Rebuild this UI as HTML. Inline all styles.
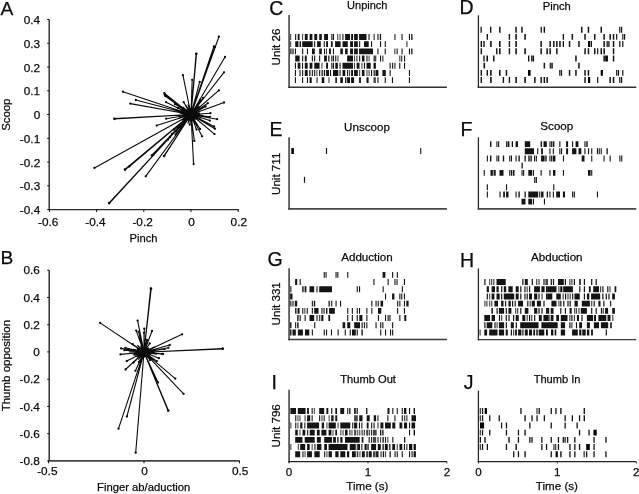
<!DOCTYPE html>
<html><head><meta charset="utf-8"><title>Figure</title>
<style>
html,body{margin:0;padding:0;background:#fff;}
svg{display:block;}
text{font-family:"Liberation Sans",sans-serif;fill:#0c0c0c;stroke:#0c0c0c;stroke-width:0.25px;}
</style></head><body>
<svg width="639" height="494" viewBox="0 0 639 494">
<rect width="639" height="494" fill="#fff"/>
<path d="M49.2 19.5V209.6H238.8" fill="none" stroke="#2a2a2a" stroke-width="1.4"/>
<text x="40.2" y="214.2" font-size="11.8" text-anchor="end">-0.4</text>
<text x="40.2" y="190.4" font-size="11.8" text-anchor="end">-0.3</text>
<text x="40.2" y="166.7" font-size="11.8" text-anchor="end">-0.2</text>
<text x="40.2" y="142.9" font-size="11.8" text-anchor="end">-0.1</text>
<text x="40.2" y="119.1" font-size="11.8" text-anchor="end">0</text>
<text x="40.2" y="95.4" font-size="11.8" text-anchor="end">0.1</text>
<text x="40.2" y="71.6" font-size="11.8" text-anchor="end">0.2</text>
<text x="40.2" y="47.9" font-size="11.8" text-anchor="end">0.3</text>
<text x="40.2" y="24.1" font-size="11.8" text-anchor="end">0.4</text>
<text x="48.2" y="225.8" font-size="11.8" text-anchor="middle">-0.6</text>
<text x="95.4" y="225.8" font-size="11.8" text-anchor="middle">-0.4</text>
<text x="142.6" y="225.8" font-size="11.8" text-anchor="middle">-0.2</text>
<text x="191.6" y="225.8" font-size="11.8" text-anchor="middle">0</text>
<text x="238.8" y="225.8" font-size="11.8" text-anchor="middle">0.2</text>
<path d="M47.2 209.6H49.2M47.2 185.8H49.2M47.2 162.1H49.2M47.2 138.3H49.2M47.2 114.5H49.2M47.2 90.8H49.2M47.2 67.0H49.2M47.2 43.3H49.2M47.2 19.5H49.2M49.4 209.6V212.0M96.6 209.6V212.0M143.8 209.6V212.0M191.0 209.6V212.0M238.2 209.6V212.0" stroke="#111" stroke-width="1" fill="none"/>
<text x="143.5" y="242.2" font-size="11.2" text-anchor="middle">Pinch</text>
<text x="10.3" y="114.7" font-size="11.4" text-anchor="middle" transform="rotate(-90 10.3 114.7)">Scoop</text>
<text x="0.6" y="14.8" font-size="19.2" text-anchor="start">A</text>
<path d="M191.0 114.5L218.9 36.7M191.0 114.5L213.9 46.4M191.0 114.5L215.0 46.9M191.0 114.5L196.1 53.7M191.0 114.5L196.5 53.8M191.0 114.5L225 57M191.0 114.5L224 72.3M191.0 114.5L182.9 75.2M191.0 114.5L192.2 79.8M191.0 114.5L199.7 81.9M191.0 114.5L218.9 90.4M191.0 114.5L164.3 93.1M191.0 114.5L165.5 96.2M191.0 114.5L166.1 102.2M191.0 114.5L224 102.5M191.0 114.5L207.8 103.2M191.0 114.5L205.6 106.5M191.0 114.5L183.7 102.2M191.0 114.5L210.4 113.2M191.0 114.5L217.1 119.2M191.0 114.5L209.8 116.8M191.0 114.5L209.8 120.6M191.0 114.5L214.9 128.7M191.0 114.5L214.1 126.5M191.0 114.5L214.5 134.1M191.0 114.5L202 136.3M191.0 114.5L194.3 140.9M191.0 114.5L193.6 164.1M191.0 114.5L196.5 129.6M191.0 114.5L200.1 129M191.0 114.5L189.8 124.7M191.0 114.5L166.2 118.7M191.0 114.5L156.7 125.6M191.0 114.5L123 91.7M191.0 114.5L135.8 100M191.0 114.5L130.3 103.6M191.0 114.5L114.4 118.6M191.0 114.5L114.5 119.0M191.0 114.5L94.4 167.9M191.0 114.5L124.8 169.4M191.0 114.5L125.1 169.8M191.0 114.5L129.3 166.5M191.0 114.5L145.7 176.3M191.0 114.5L108.9 203M191.0 114.5L109.3 203.3M191.0 114.5L163.9 156.1M191.0 114.5L151.7 155.5M191.0 114.5L153.2 155M191.0 114.5L164.3 156M191.0 114.5L165 94.5M191.0 114.5L164.8 95M191.0 114.5L203 98M191.0 114.5L178 108M191.0 114.5L175 104M191.0 114.5L200 100M191.0 114.5L178 128M191.0 114.5L176 131.5M191.0 114.5L174 129.5M191.0 114.5L172 134M191.0 114.5L175.5 134.5M191.0 114.5L170 137M191.0 114.5L179.5 126M191.0 114.5L168 139.5M191.0 114.5L181 127.5" stroke="#0a0a0a" stroke-width="1.1" fill="none" stroke-linecap="round"/>
<g fill="#0a0a0a"><circle cx="218.9" cy="36.7" r="1.15"/><circle cx="213.9" cy="46.4" r="1.15"/><circle cx="215.0" cy="46.9" r="1.15"/><circle cx="196.1" cy="53.7" r="1.15"/><circle cx="196.5" cy="53.8" r="1.15"/><circle cx="225" cy="57" r="1.15"/><circle cx="224" cy="72.3" r="1.15"/><circle cx="182.9" cy="75.2" r="1.15"/><circle cx="192.2" cy="79.8" r="1.15"/><circle cx="199.7" cy="81.9" r="1.15"/><circle cx="218.9" cy="90.4" r="1.15"/><circle cx="164.3" cy="93.1" r="1.15"/><circle cx="165.5" cy="96.2" r="1.15"/><circle cx="166.1" cy="102.2" r="1.15"/><circle cx="224" cy="102.5" r="1.15"/><circle cx="207.8" cy="103.2" r="1.15"/><circle cx="205.6" cy="106.5" r="1.15"/><circle cx="183.7" cy="102.2" r="1.15"/><circle cx="210.4" cy="113.2" r="1.15"/><circle cx="217.1" cy="119.2" r="1.15"/><circle cx="209.8" cy="116.8" r="1.15"/><circle cx="209.8" cy="120.6" r="1.15"/><circle cx="214.9" cy="128.7" r="1.15"/><circle cx="214.1" cy="126.5" r="1.15"/><circle cx="214.5" cy="134.1" r="1.15"/><circle cx="202" cy="136.3" r="1.15"/><circle cx="194.3" cy="140.9" r="1.15"/><circle cx="193.6" cy="164.1" r="1.15"/><circle cx="196.5" cy="129.6" r="1.15"/><circle cx="200.1" cy="129" r="1.15"/><circle cx="189.8" cy="124.7" r="1.15"/><circle cx="166.2" cy="118.7" r="1.15"/><circle cx="156.7" cy="125.6" r="1.15"/><circle cx="123" cy="91.7" r="1.15"/><circle cx="135.8" cy="100" r="1.15"/><circle cx="130.3" cy="103.6" r="1.15"/><circle cx="114.4" cy="118.6" r="1.15"/><circle cx="114.5" cy="119.0" r="1.15"/><circle cx="94.4" cy="167.9" r="1.15"/><circle cx="124.8" cy="169.4" r="1.15"/><circle cx="125.1" cy="169.8" r="1.15"/><circle cx="129.3" cy="166.5" r="1.15"/><circle cx="145.7" cy="176.3" r="1.15"/><circle cx="108.9" cy="203" r="1.15"/><circle cx="109.3" cy="203.3" r="1.15"/><circle cx="163.9" cy="156.1" r="1.15"/><circle cx="151.7" cy="155.5" r="1.15"/><circle cx="153.2" cy="155" r="1.15"/><circle cx="164.3" cy="156" r="1.15"/><circle cx="165" cy="94.5" r="1.15"/><circle cx="164.8" cy="95" r="1.15"/><circle cx="203" cy="98" r="1.15"/><circle cx="178" cy="108" r="1.15"/><circle cx="175" cy="104" r="1.15"/><circle cx="200" cy="100" r="1.15"/><circle cx="178" cy="128" r="1.15"/><circle cx="176" cy="131.5" r="1.15"/><circle cx="174" cy="129.5" r="1.15"/><circle cx="172" cy="134" r="1.15"/><circle cx="175.5" cy="134.5" r="1.15"/><circle cx="170" cy="137" r="1.15"/><circle cx="179.5" cy="126" r="1.15"/><circle cx="168" cy="139.5" r="1.15"/><circle cx="181" cy="127.5" r="1.15"/></g>
<path d="M191.0 114.5L191.7 122.0M191.0 114.5L184.3 120.2M191.0 114.5L187.1 111.4M191.0 114.5L202.7 115.3M191.0 114.5L190.6 120.0M191.0 114.5L199.8 114.3M191.0 114.5L195.6 108.5M191.0 114.5L187.0 110.7M191.0 114.5L183.1 107.3M191.0 114.5L180.2 113.2M191.0 114.5L188.4 110.6M191.0 114.5L191.5 106.7M191.0 114.5L189.3 118.5M191.0 114.5L196.8 109.2M191.0 114.5L188.7 105.1M191.0 114.5L188.2 104.9M191.0 114.5L182.0 120.1M191.0 114.5L179.3 117.9M191.0 114.5L195.2 111.3M191.0 114.5L195.4 118.6M191.0 114.5L199.3 113.0M191.0 114.5L185.8 110.3M191.0 114.5L182.9 114.2M191.0 114.5L185.3 120.7M191.0 114.5L180.4 109.6M191.0 114.5L185.8 105.4M191.0 114.5L199.0 106.4M191.0 114.5L188.0 110.1M191.0 114.5L199.1 106.7M191.0 114.5L198.9 110.2M191.0 114.5L189.5 109.3M191.0 114.5L195.7 107.8M191.0 114.5L189.8 118.8M191.0 114.5L198.8 106.3M191.0 114.5L200.7 119.3M191.0 114.5L185.8 117.1M191.0 114.5L188.0 123.1M191.0 114.5L194.7 111.4M191.0 114.5L187.0 111.7M191.0 114.5L189.5 108.5" stroke="#0a0a0a" stroke-width="1.3" fill="none" stroke-linecap="round"/>
<ellipse cx="191.0" cy="114.5" rx="7.5" ry="6.5" fill="#0a0a0a"/>
<path d="M49.2 270.2V460.9" fill="none" stroke="#222" stroke-width="1.4"/>
<path d="M48.5 460.9H239.6" fill="none" stroke="#444" stroke-width="1.75"/>
<text x="39.8" y="465.0" font-size="11.8" text-anchor="end">-0.8</text>
<text x="39.8" y="437.8" font-size="11.8" text-anchor="end">-0.6</text>
<text x="39.8" y="410.5" font-size="11.8" text-anchor="end">-0.4</text>
<text x="39.8" y="383.3" font-size="11.8" text-anchor="end">-0.2</text>
<text x="39.8" y="356.1" font-size="11.8" text-anchor="end">0</text>
<text x="39.8" y="328.8" font-size="11.8" text-anchor="end">0.2</text>
<text x="39.8" y="301.6" font-size="11.8" text-anchor="end">0.4</text>
<text x="39.8" y="274.3" font-size="11.8" text-anchor="end">0.6</text>
<text x="47.3" y="475.2" font-size="11.8" text-anchor="middle">-0.5</text>
<text x="144.6" y="475.2" font-size="11.8" text-anchor="middle">0</text>
<text x="240.1" y="475.2" font-size="11.8" text-anchor="middle">0.5</text>
<path d="M47.2 460.9H49.2M47.2 433.7H49.2M47.2 406.4H49.2M47.2 379.2H49.2M47.2 351.9H49.2M47.2 324.7H49.2M47.2 297.5H49.2M47.2 270.2H49.2M48.5 460.9V463.29999999999995M144.0 460.9V463.29999999999995M239.5 460.9V463.29999999999995" stroke="#111" stroke-width="1" fill="none"/>
<text x="143.7" y="490.9" font-size="11.25" text-anchor="middle">Finger ab/aduction</text>
<text x="10.2" y="365.6" font-size="11.5" text-anchor="middle" transform="rotate(-90 10.2 365.6)">Thumb opposition</text>
<text x="0.4" y="264.4" font-size="19.2" text-anchor="start">B</text>
<path d="M144 352.2L150.7 288.5M144 352.2L151.2 288.7M144 352.2L100.1 322.9M144 352.2L137.6 320.6M144 352.2L136.2 330.6M144 352.2L139.8 337.7M144 352.2L138.6 331.6M144 352.2L144.3 328.6M144 352.2L144 332.8M144 352.2L152 331M144 352.2L182.1 334.3M144 352.2L169.7 345M144 352.2L168.5 347.7M144 352.2L164.6 349M144 352.2L163.1 354M144 352.2L158.9 358.2M144 352.2L156.8 361.1M144 352.2L121.1 348.4M144 352.2L120.5 354.4M144 352.2L124.4 350.2M144 352.2L125.4 347.8M144 352.2L126.8 361M144 352.2L125.5 369.5M144 352.2L133.5 362.6M144 352.2L135.4 370.8M144 352.2L132.7 344.1M144 352.2L149.7 343.4M144 352.2L161.9 353.9M144 352.2L222.7 348.5M144 352.2L222.7 348.9M144 352.2L175.3 378.6M144 352.2L183.6 393.8M144 352.2L168.1 410.8M144 352.2L168.5 410.6M144 352.2L126.9 416.5M144 352.2L118.5 428.7M144 352.2L135.7 452.7M144 352.2L158 382.5M144 352.2L147 340M144 352.2L141 341M144 352.2L150 360M144 352.2L139 362" stroke="#0a0a0a" stroke-width="1.1" fill="none" stroke-linecap="round"/>
<g fill="#0a0a0a"><circle cx="150.7" cy="288.5" r="1.15"/><circle cx="151.2" cy="288.7" r="1.15"/><circle cx="100.1" cy="322.9" r="1.15"/><circle cx="137.6" cy="320.6" r="1.15"/><circle cx="136.2" cy="330.6" r="1.15"/><circle cx="139.8" cy="337.7" r="1.15"/><circle cx="138.6" cy="331.6" r="1.15"/><circle cx="144.3" cy="328.6" r="1.15"/><circle cx="144" cy="332.8" r="1.15"/><circle cx="152" cy="331" r="1.15"/><circle cx="182.1" cy="334.3" r="1.15"/><circle cx="169.7" cy="345" r="1.15"/><circle cx="168.5" cy="347.7" r="1.15"/><circle cx="164.6" cy="349" r="1.15"/><circle cx="163.1" cy="354" r="1.15"/><circle cx="158.9" cy="358.2" r="1.15"/><circle cx="156.8" cy="361.1" r="1.15"/><circle cx="121.1" cy="348.4" r="1.15"/><circle cx="120.5" cy="354.4" r="1.15"/><circle cx="124.4" cy="350.2" r="1.15"/><circle cx="125.4" cy="347.8" r="1.15"/><circle cx="126.8" cy="361" r="1.15"/><circle cx="125.5" cy="369.5" r="1.15"/><circle cx="133.5" cy="362.6" r="1.15"/><circle cx="135.4" cy="370.8" r="1.15"/><circle cx="132.7" cy="344.1" r="1.15"/><circle cx="149.7" cy="343.4" r="1.15"/><circle cx="161.9" cy="353.9" r="1.15"/><circle cx="222.7" cy="348.5" r="1.15"/><circle cx="222.7" cy="348.9" r="1.15"/><circle cx="175.3" cy="378.6" r="1.15"/><circle cx="183.6" cy="393.8" r="1.15"/><circle cx="168.1" cy="410.8" r="1.15"/><circle cx="168.5" cy="410.6" r="1.15"/><circle cx="126.9" cy="416.5" r="1.15"/><circle cx="118.5" cy="428.7" r="1.15"/><circle cx="135.7" cy="452.7" r="1.15"/><circle cx="158" cy="382.5" r="1.15"/><circle cx="147" cy="340" r="1.15"/><circle cx="141" cy="341" r="1.15"/><circle cx="150" cy="360" r="1.15"/><circle cx="139" cy="362" r="1.15"/></g>
<path d="M144 352.2L154.4 347.0M144 352.2L129.7 351.9M144 352.2L141.8 355.2M144 352.2L139.6 350.5M144 352.2L146.9 356.7M144 352.2L138.9 349.9M144 352.2L156.6 354.1M144 352.2L138.6 359.1M144 352.2L150.9 349.4M144 352.2L134.4 353.5M144 352.2L137.4 347.7M144 352.2L133.9 350.1M144 352.2L153.1 350.3M144 352.2L133.3 354.9M144 352.2L144.6 356.5M144 352.2L153.8 351.5M144 352.2L138.9 351.3M144 352.2L135.0 355.1M144 352.2L154.7 352.9M144 352.2L140.1 349.9M144 352.2L137.4 348.6M144 352.2L140.4 348.1M144 352.2L140.8 346.0M144 352.2L149.7 352.6M144 352.2L137.7 345.5M144 352.2L143.9 357.2M144 352.2L137.2 349.8M144 352.2L138.7 355.5M144 352.2L136.8 356.4M144 352.2L141.3 356.6M144 352.2L144.8 349.3M144 352.2L133.2 349.5M144 352.2L141.3 355.8M144 352.2L146.4 348.5M144 352.2L147.5 356.8M144 352.2L142.0 349.1M144 352.2L140.4 356.2M144 352.2L148.6 347.9M144 352.2L148.1 349.3M144 352.2L138.2 357.3" stroke="#0a0a0a" stroke-width="1.3" fill="none" stroke-linecap="round"/>
<ellipse cx="144" cy="352.2" rx="7.5" ry="5.0" fill="#0a0a0a"/>
<path d="M289.1 15.0V87.875" fill="none" stroke="#505050" stroke-width="1.7"/>
<path d="M288.25 87.15H446.9" fill="none" stroke="#333" stroke-width="1.45"/>
<text x="367.3" y="9.3" font-size="11.0" text-anchor="middle">Unpinch</text>
<text x="279.6" y="47.0" font-size="11.6" text-anchor="middle" transform="rotate(-90 279.6 47.0)">Unit 26</text>
<text x="269.2" y="14.8" font-size="19.5" text-anchor="start">C</text>
<path d="M295.1 34.0h1.1v5.9h-1.1zM297.7 34.0h1.9v5.9h-1.9zM304.8 34.0h2.9v5.9h-2.9zM309.6 34.0h2.8v5.9h-2.8zM314.3 34.0h2.9v5.9h-2.9zM319.2 34.0h2.6v5.9h-2.6zM324.1 34.0h3.9v5.9h-3.9zM331.3 34.0h1.1v5.9h-1.1zM332.9 34.0h1.1v5.9h-1.1zM345.1 34.0h4.9v5.9h-4.9zM351.1 34.0h1.9v5.9h-1.9zM295.2 41.2h2.8v5.9h-2.8zM299.9 41.2h1.1v5.9h-1.1zM302.2 41.2h10.5v5.9h-10.5zM314.1 41.2h1.1v5.9h-1.1zM317.1 41.2h3.7v5.9h-3.7zM323.7 41.2h1.1v5.9h-1.1zM326.1 41.2h1.9v5.9h-1.9zM330.9 41.2h1.8v5.9h-1.8zM335.1 41.2h5.5v5.9h-5.5zM342.5 41.2h5.3v5.9h-5.3zM350.1 41.2h2.9v5.9h-2.9zM294.9 48.4h1.1v5.9h-1.1zM302.1 48.4h1.1v5.9h-1.1zM306.9 48.4h1.1v5.9h-1.1zM312.0 48.4h2.8v5.9h-2.8zM319.2 48.4h2.6v5.9h-2.6zM324.0 48.4h1.1v5.9h-1.1zM329.0 48.4h1.9v5.9h-1.9zM332.9 48.4h1.1v5.9h-1.1zM340.3 48.4h2.6v5.9h-2.6zM345.1 48.4h2.6v5.9h-2.6zM350.1 48.4h2.9v5.9h-2.9zM295.2 55.6h4.4v5.9h-4.4zM302.1 55.6h1.1v5.9h-1.1zM304.8 55.6h1.9v5.9h-1.9zM311.8 55.6h1.1v5.9h-1.1zM314.1 55.6h1.1v5.9h-1.1zM319.1 55.6h1.1v5.9h-1.1zM324.1 55.6h2.8v5.9h-2.8zM331.3 55.6h1.1v5.9h-1.1zM332.9 55.6h1.1v5.9h-1.1zM335.2 55.6h1.1v5.9h-1.1zM347.1 55.6h5.9v5.9h-5.9zM294.9 62.8h1.1v5.9h-1.1zM297.7 62.8h2.7v5.9h-2.7zM302.0 62.8h1.1v5.9h-1.1zM304.8 62.8h2.9v5.9h-2.9zM309.6 62.8h2.8v5.9h-2.8zM314.3 62.8h5.3v5.9h-5.3zM326.1 62.8h1.9v5.9h-1.9zM331.3 62.8h1.1v5.9h-1.1zM332.9 62.8h1.1v5.9h-1.1zM335.3 62.8h2.6v5.9h-2.6zM339.5 62.8h1.1v5.9h-1.1zM342.5 62.8h10.5v5.9h-10.5zM294.9 70.0h1.1v5.9h-1.1zM299.5 70.0h1.1v5.9h-1.1zM302.1 70.0h1.1v5.9h-1.1zM304.8 70.0h2.9v5.9h-2.9zM311.8 70.0h1.1v5.9h-1.1zM314.1 70.0h1.1v5.9h-1.1zM319.1 70.0h1.1v5.9h-1.1zM324.0 70.0h1.1v5.9h-1.1zM326.1 70.0h2.9v5.9h-2.9zM330.0 70.0h1.1v5.9h-1.1zM333.0 70.0h5.3v5.9h-5.3zM339.5 70.0h1.1v5.9h-1.1zM342.5 70.0h2.8v5.9h-2.8zM347.1 70.0h1.1v5.9h-1.1zM351.1 70.0h1.9v5.9h-1.9zM294.9 77.2h1.1v5.9h-1.1zM302.0 77.2h1.1v5.9h-1.1zM306.9 77.2h1.1v5.9h-1.1zM309.6 77.2h2.1v5.9h-2.1zM321.7 77.2h2.6v5.9h-2.6zM335.3 77.2h1.6v5.9h-1.6zM340.3 77.2h2.6v5.9h-2.6zM345.1 77.2h1.3v5.9h-1.3zM347.1 77.2h2.9v5.9h-2.9zM351.1 77.2h1.9v5.9h-1.9zM354.1 34.0h3.7v5.9h-3.7zM359.1 34.0h7.4v5.9h-7.4zM368.5 34.0h1.1v5.9h-1.1zM377.4 34.0h1.1v5.9h-1.1zM379.8 34.0h1.3v5.9h-1.3zM401.5 34.0h1.1v5.9h-1.1zM408.9 34.0h1.1v5.9h-1.1zM411.2 34.0h1.3v5.9h-1.3zM354.1 41.2h3.7v5.9h-3.7zM359.1 41.2h1.1v5.9h-1.1zM364.0 41.2h4.7v5.9h-4.7zM371.0 41.2h1.1v5.9h-1.1zM380.0 41.2h1.1v5.9h-1.1zM384.7 41.2h1.1v5.9h-1.1zM354.1 48.4h3.7v5.9h-3.7zM359.1 48.4h13.9v5.9h-13.9zM377.4 48.4h1.1v5.9h-1.1zM384.7 48.4h1.1v5.9h-1.1zM396.6 48.4h1.1v5.9h-1.1zM401.5 48.4h1.1v5.9h-1.1zM408.9 48.4h1.1v5.9h-1.1zM411.2 48.4h1.3v5.9h-1.3zM359.1 55.6h1.1v5.9h-1.1zM361.9 55.6h2.6v5.9h-2.6zM366.4 55.6h1.1v5.9h-1.1zM380.0 55.6h1.1v5.9h-1.1zM404.0 55.6h1.1v5.9h-1.1zM356.7 62.8h2.8v5.9h-2.8zM363.9 62.8h1.1v5.9h-1.1zM366.5 62.8h4.2v5.9h-4.2zM373.5 62.8h2.4v5.9h-2.4zM389.6 62.8h1.1v5.9h-1.1zM392.1 62.8h1.1v5.9h-1.1zM399.2 62.8h1.1v5.9h-1.1zM404.0 62.8h1.1v5.9h-1.1zM354.1 70.0h3.7v5.9h-3.7zM361.9 70.0h2.6v5.9h-2.6zM371.0 70.0h1.1v5.9h-1.1zM375.9 70.0h2.5v5.9h-2.5zM382.4 70.0h3.4v5.9h-3.4zM389.6 70.0h1.1v5.9h-1.1zM408.9 70.0h1.1v5.9h-1.1zM353.0 77.2h1.1v5.9h-1.1zM359.1 77.2h1.8v5.9h-1.8zM366.5 77.2h2.1v5.9h-2.1zM377.4 77.2h1.1v5.9h-1.1zM384.7 77.2h1.1v5.9h-1.1zM391.9 77.2h1.1v5.9h-1.1zM408.9 77.2h1.1v5.9h-1.1z" fill="#141414"/>
<path d="M290.1 34.0h1.1v5.9h-1.1zM302.0 34.0h1.1v5.9h-1.1zM337.2 34.0h1.1v5.9h-1.1zM339.5 34.0h1.1v5.9h-1.1zM342.2 34.0h1.4v5.9h-1.4zM290.1 41.2h1.1v5.9h-1.1zM298.4 41.2h1.1v5.9h-1.1zM289.8 48.4h1.1v5.9h-1.1zM291.3 48.4h1.1v5.9h-1.1zM292.7 48.4h1.1v5.9h-1.1zM326.0 48.4h1.1v5.9h-1.1zM328.0 55.6h1.6v5.9h-1.6zM337.4 55.6h1.1v5.9h-1.1zM321.4 62.8h1.1v5.9h-1.1zM309.0 70.0h1.6v5.9h-1.6zM316.3 70.0h1.1v5.9h-1.1zM321.4 70.0h1.8v5.9h-1.8zM349.0 70.0h1.1v5.9h-1.1zM316.4 77.2h1.3v5.9h-1.3zM328.4 77.2h1.1v5.9h-1.1zM373.5 34.0h1.3v5.9h-1.3zM394.3 34.0h1.3v5.9h-1.3zM406.3 41.2h1.2v5.9h-1.2zM394.3 48.4h1.1v5.9h-1.1zM354.0 55.6h1.1v5.9h-1.1zM356.2 55.6h1.3v5.9h-1.3zM368.5 55.6h1.1v5.9h-1.1zM373.5 55.6h2.8v5.9h-2.8zM382.2 55.6h1.3v5.9h-1.3zM399.2 55.6h1.1v5.9h-1.1zM400.9 55.6h1.4v5.9h-1.4zM354.0 62.8h1.1v5.9h-1.1zM361.4 62.8h1.1v5.9h-1.1zM394.3 62.8h1.3v5.9h-1.3zM359.1 70.0h1.1v5.9h-1.1zM366.4 70.0h1.1v5.9h-1.1zM368.5 70.0h1.1v5.9h-1.1zM373.5 70.0h2.1v5.9h-2.1zM373.5 77.2h2.4v5.9h-2.4z" fill="#474747"/>
<path d="" fill="#000"/>
<path d="M478.4 15.3V87.9" fill="none" stroke="#2a2a2a" stroke-width="1.3"/>
<path d="M477.75 87.2H636.3" fill="none" stroke="#333" stroke-width="1.4"/>
<text x="556.8" y="9.5" font-size="11.2" text-anchor="middle">Pinch</text>
<text x="459.5" y="14.4" font-size="19.5" text-anchor="start">D</text>
<path d="M480.5 26.8h1.3v5.9h-1.3zM490.0 26.8h1.4v5.9h-1.4zM499.1 26.8h1.5v5.9h-1.5zM515.3 26.8h1.5v5.9h-1.5zM521.2 26.8h1.5v5.9h-1.5zM540.6 26.8h1.3v5.9h-1.3zM486.6 33.9h1.4v5.9h-1.4zM508.7 33.9h1.4v5.9h-1.4zM515.3 33.9h1.6v5.9h-1.6zM524.3 33.9h1.6v5.9h-1.6zM480.6 41.1h1.4v5.9h-1.4zM483.3 41.1h1.4v5.9h-1.4zM490.1 41.1h1.6v5.9h-1.6zM499.0 41.1h1.6v5.9h-1.6zM508.7 41.1h1.4v5.9h-1.4zM515.3 41.1h1.6v5.9h-1.6zM540.4 41.1h1.5v5.9h-1.5zM480.6 48.3h1.4v5.9h-1.4zM496.1 48.3h1.4v5.9h-1.4zM499.0 48.3h1.6v5.9h-1.6zM508.7 48.3h1.4v5.9h-1.4zM515.3 48.3h1.6v5.9h-1.6zM524.3 48.3h1.6v5.9h-1.6zM540.4 48.3h1.5v5.9h-1.5zM483.3 55.5h1.4v5.9h-1.4zM486.4 55.5h1.6v5.9h-1.6zM493.0 55.5h1.5v5.9h-1.5zM528.0 55.5h1.4v5.9h-1.4zM531.1 55.5h1.3v5.9h-1.3zM532.7 55.5h1.4v5.9h-1.4zM483.5 62.7h1.6v5.9h-1.6zM480.6 69.9h1.4v5.9h-1.4zM486.6 69.9h1.4v5.9h-1.4zM490.1 69.9h1.6v5.9h-1.6zM499.0 69.9h1.6v5.9h-1.6zM505.7 69.9h1.5v5.9h-1.5zM480.6 77.1h1.4v5.9h-1.4zM490.1 77.1h1.6v5.9h-1.6zM502.7 77.1h1.4v5.9h-1.4zM508.7 77.1h1.4v5.9h-1.4zM515.3 77.1h1.6v5.9h-1.6zM524.3 77.1h1.6v5.9h-1.6zM534.1 77.1h1.5v5.9h-1.5zM540.4 77.1h1.5v5.9h-1.5zM543.6 26.8h1.5v5.9h-1.5zM581.0 26.8h1.5v5.9h-1.5zM587.7 26.8h1.5v5.9h-1.5zM600.5 26.8h1.5v5.9h-1.5zM562.7 33.9h1.3v5.9h-1.3zM571.6 33.9h1.5v5.9h-1.5zM584.3 33.9h1.5v5.9h-1.5zM594.0 33.9h1.5v5.9h-1.5zM603.4 33.9h1.5v5.9h-1.5zM549.4 41.1h1.5v5.9h-1.5zM553.1 41.1h1.5v5.9h-1.5zM556.1 41.1h1.5v5.9h-1.5zM559.2 41.1h1.5v5.9h-1.5zM562.7 41.1h1.3v5.9h-1.3zM568.8 41.1h1.5v5.9h-1.5zM578.2 41.1h1.5v5.9h-1.5zM590.8 41.1h1.2v5.9h-1.2zM603.4 41.1h1.5v5.9h-1.5zM546.4 48.3h1.5v5.9h-1.5zM549.4 48.3h1.5v5.9h-1.5zM556.1 48.3h1.5v5.9h-1.5zM584.3 48.3h1.5v5.9h-1.5zM587.7 48.3h1.5v5.9h-1.5zM594.0 48.3h1.5v5.9h-1.5zM597.1 48.3h1.2v5.9h-1.2zM600.5 48.3h1.5v5.9h-1.5zM603.4 48.3h1.5v5.9h-1.5zM575.2 55.5h1.5v5.9h-1.5zM603.4 55.5h1.5v5.9h-1.5zM543.6 62.7h1.5v5.9h-1.5zM549.7 62.7h1.2v5.9h-1.2zM551.3 62.7h1.5v5.9h-1.5zM578.2 62.7h1.5v5.9h-1.5zM559.2 69.9h1.2v5.9h-1.2zM560.9 69.9h1.2v5.9h-1.2zM568.8 69.9h1.5v5.9h-1.5zM575.2 69.9h1.5v5.9h-1.5zM584.3 69.9h1.5v5.9h-1.5zM587.7 69.9h1.5v5.9h-1.5zM543.6 77.1h1.5v5.9h-1.5zM546.4 77.1h1.5v5.9h-1.5zM584.3 77.1h1.5v5.9h-1.5zM597.1 77.1h1.2v5.9h-1.2zM619.2 26.8h1.2v5.9h-1.2zM621.0 26.8h1.2v5.9h-1.2zM609.4 33.9h1.5v5.9h-1.5zM612.8 33.9h1.5v5.9h-1.5zM616.1 33.9h1.2v5.9h-1.2zM622.2 33.9h1.2v5.9h-1.2zM624.0 33.9h1.2v5.9h-1.2zM612.8 41.1h1.5v5.9h-1.5zM619.2 41.1h1.2v5.9h-1.2zM622.2 41.1h1.2v5.9h-1.2zM612.8 48.3h1.5v5.9h-1.5zM612.8 55.5h1.5v5.9h-1.5zM616.1 69.9h1.2v5.9h-1.2zM617.9 69.9h1.2v5.9h-1.2zM622.2 69.9h1.2v5.9h-1.2zM609.4 77.1h1.5v5.9h-1.5zM612.8 77.1h1.5v5.9h-1.5zM619.2 77.1h1.2v5.9h-1.2zM621.0 77.1h1.2v5.9h-1.2z" fill="#141414"/>
<path d="M606.4 41.1h3.3v5.9h-3.3z" fill="#474747"/>
<path d="M528.0 69.9h2.6v5.9h-2.6zM588.0 41.1h2.2v5.9h-2.2zM600.7 69.9h2.2v5.9h-2.2zM588.0 77.1h2.2v5.9h-2.2zM605.2 55.5h2.7v5.9h-2.7z" fill="#000"/>
<path d="M289.1 137.2V209.85" fill="none" stroke="#505050" stroke-width="1.7"/>
<path d="M288.25 208.95H446.9" fill="none" stroke="#474747" stroke-width="1.8"/>
<text x="367.0" y="130.6" font-size="11.6" text-anchor="middle">Unscoop</text>
<text x="279.6" y="173.8" font-size="11.6" text-anchor="middle" transform="rotate(-90 279.6 173.8)">Unit 711</text>
<text x="269.4" y="136.0" font-size="19.5" text-anchor="start">E</text>
<path d="M325.9 148.1h1.2v5.9h-1.2zM303.9 176.8h1.2v5.9h-1.2zM420.2 148.1h1.1v5.9h-1.1z" fill="#141414"/>
<path d="" fill="#474747"/>
<path d="M291.3 148.1h2.6v5.9h-2.6z" fill="#000"/>
<path d="M478.4 137.3V209.85" fill="none" stroke="#2a2a2a" stroke-width="1.3"/>
<path d="M477.75 208.95H636.3" fill="none" stroke="#474747" stroke-width="1.8"/>
<text x="556.8" y="130.0" font-size="11.6" text-anchor="middle">Scoop</text>
<text x="460.6" y="136.3" font-size="19.5" text-anchor="start">F</text>
<path d="M490.0 141.2h1.4v5.9h-1.4zM496.4 141.2h1.1v5.9h-1.1zM498.1 141.2h1.1v5.9h-1.1zM506.1 141.2h1.4v5.9h-1.4zM508.0 141.2h1.4v5.9h-1.4zM511.7 141.2h1.3v5.9h-1.3zM515.6 141.2h2.4v5.9h-2.4zM524.8 141.2h5.4v5.9h-5.4zM540.6 141.2h1.4v5.9h-1.4zM543.5 141.2h3.3v5.9h-3.3zM524.8 148.3h9.2v5.9h-9.2zM537.2 148.3h1.1v5.9h-1.1zM541.1 148.3h1.8v5.9h-1.8zM486.8 155.5h1.1v5.9h-1.1zM490.0 155.5h1.4v5.9h-1.4zM496.4 155.5h1.1v5.9h-1.1zM498.1 155.5h1.1v5.9h-1.1zM502.8 155.5h1.4v5.9h-1.4zM509.2 155.5h1.1v5.9h-1.1zM510.9 155.5h1.1v5.9h-1.1zM515.5 155.5h1.1v5.9h-1.1zM518.4 155.5h1.4v5.9h-1.4zM524.5 155.5h1.3v5.9h-1.3zM528.3 155.5h1.4v5.9h-1.4zM530.4 155.5h1.4v5.9h-1.4zM534.0 155.5h1.1v5.9h-1.1zM535.8 155.5h1.1v5.9h-1.1zM541.1 155.5h3.5v5.9h-3.5zM545.3 155.5h1.4v5.9h-1.4zM521.5 162.7h1.3v5.9h-1.3zM483.7 169.9h1.1v5.9h-1.1zM490.5 169.9h2.4v5.9h-2.4zM493.6 169.9h2.1v5.9h-2.1zM499.5 169.9h4.0v5.9h-4.0zM509.2 169.9h1.1v5.9h-1.1zM510.9 169.9h1.1v5.9h-1.1zM512.7 169.9h1.8v5.9h-1.8zM521.5 169.9h1.1v5.9h-1.1zM523.1 169.9h1.1v5.9h-1.1zM528.3 169.9h3.8v5.9h-3.8zM532.9 169.9h1.1v5.9h-1.1zM540.6 169.9h1.1v5.9h-1.1zM534.2 177.1h1.1v5.9h-1.1zM535.8 177.1h1.1v5.9h-1.1zM486.8 184.3h1.1v5.9h-1.1zM506.0 184.3h1.1v5.9h-1.1zM486.8 191.5h1.1v5.9h-1.1zM499.5 191.5h1.1v5.9h-1.1zM503.2 191.5h1.7v5.9h-1.7zM506.1 191.5h2.4v5.9h-2.4zM515.5 191.5h1.1v5.9h-1.1zM518.4 191.5h1.4v5.9h-1.4zM524.5 191.5h1.3v5.9h-1.3zM528.3 191.5h9.9v5.9h-9.9zM539.2 191.5h1.1v5.9h-1.1zM541.1 191.5h2.4v5.9h-2.4zM546.7 191.5h1.3v5.9h-1.3zM521.5 198.7h4.0v5.9h-4.0zM528.3 198.7h3.8v5.9h-3.8zM532.9 198.7h1.1v5.9h-1.1zM543.9 198.7h1.1v5.9h-1.1zM549.4 141.2h1.1v5.9h-1.1zM551.1 141.2h1.1v5.9h-1.1zM552.8 141.2h1.6v5.9h-1.6zM559.3 141.2h1.1v5.9h-1.1zM566.1 141.2h2.0v5.9h-2.0zM572.1 141.2h1.1v5.9h-1.1zM575.6 141.2h2.8v5.9h-2.8zM584.4 141.2h1.1v5.9h-1.1zM586.3 141.2h1.4v5.9h-1.4zM549.4 148.3h1.1v5.9h-1.1zM552.8 148.3h1.1v5.9h-1.1zM559.3 148.3h1.1v5.9h-1.1zM561.0 148.3h1.1v5.9h-1.1zM566.1 148.3h2.0v5.9h-2.0zM572.1 148.3h4.3v5.9h-4.3zM578.5 148.3h2.8v5.9h-2.8zM584.4 148.3h1.1v5.9h-1.1zM588.0 148.3h1.1v5.9h-1.1zM591.2 148.3h1.1v5.9h-1.1zM596.9 148.3h1.1v5.9h-1.1zM598.7 148.3h1.1v5.9h-1.1zM600.7 148.3h1.1v5.9h-1.1zM606.5 148.3h1.3v5.9h-1.3zM549.4 155.5h1.1v5.9h-1.1zM551.1 155.5h1.1v5.9h-1.1zM552.8 155.5h2.6v5.9h-2.6zM562.9 155.5h1.1v5.9h-1.1zM581.7 155.5h2.8v5.9h-2.8zM591.2 155.5h1.1v5.9h-1.1zM603.5 155.5h1.1v5.9h-1.1zM609.6 155.5h1.1v5.9h-1.1zM549.4 169.9h1.1v5.9h-1.1zM553.0 169.9h2.4v5.9h-2.4zM562.9 169.9h1.1v5.9h-1.1zM588.0 169.9h2.6v5.9h-2.6zM591.2 169.9h1.1v5.9h-1.1zM553.2 184.3h1.1v5.9h-1.1zM549.4 191.5h1.1v5.9h-1.1zM552.8 191.5h1.1v5.9h-1.1zM556.2 191.5h3.8v5.9h-3.8zM562.9 191.5h2.1v5.9h-2.1zM572.1 191.5h1.1v5.9h-1.1zM573.8 191.5h1.1v5.9h-1.1zM596.9 191.5h1.1v5.9h-1.1zM619.3 155.5h1.1v5.9h-1.1zM621.2 155.5h1.1v5.9h-1.1z" fill="#141414"/>
<path d="" fill="#474747"/>
<path d="" fill="#000"/>
<path d="M289.1 268.3V340.35" fill="none" stroke="#505050" stroke-width="1.7"/>
<path d="M288.25 339.6H446.9" fill="none" stroke="#3a3a3a" stroke-width="1.5"/>
<text x="367.0" y="261.0" font-size="11.6" text-anchor="middle">Adduction</text>
<text x="279.6" y="303.8" font-size="11.6" text-anchor="middle" transform="rotate(-90 279.6 303.8)">Unit 331</text>
<text x="267.4" y="266.3" font-size="19.5" text-anchor="start">G</text>
<path d="M323.7 271.9h1.1v5.9h-1.1zM325.5 271.9h1.1v5.9h-1.1zM335.5 271.9h1.1v5.9h-1.1zM337.3 271.9h1.1v5.9h-1.1zM347.2 271.9h1.1v5.9h-1.1zM295.1 279.1h2.1v5.9h-2.1zM299.6 279.1h1.1v5.9h-1.1zM302.2 286.3h1.4v5.9h-1.4zM304.6 286.3h1.8v5.9h-1.8zM309.5 286.3h4.7v5.9h-4.7zM319.2 286.3h12.8v5.9h-12.8zM290.1 293.5h2.4v5.9h-2.4zM294.8 300.7h2.4v5.9h-2.4zM311.8 300.7h1.1v5.9h-1.1zM313.8 300.7h1.4v5.9h-1.4zM331.2 300.7h1.1v5.9h-1.1zM335.5 300.7h1.1v5.9h-1.1zM340.0 300.7h1.1v5.9h-1.1zM295.1 307.9h1.4v5.9h-1.4zM297.5 307.9h2.1v5.9h-2.1zM302.2 307.9h1.1v5.9h-1.1zM306.7 307.9h1.1v5.9h-1.1zM311.8 307.9h1.1v5.9h-1.1zM314.2 307.9h4.3v5.9h-4.3zM326.0 307.9h1.4v5.9h-1.4zM329.1 307.9h5.7v5.9h-5.7zM347.2 307.9h1.1v5.9h-1.1zM351.8 307.9h1.1v5.9h-1.1zM297.2 315.1h1.4v5.9h-1.4zM299.6 315.1h1.1v5.9h-1.1zM304.6 315.1h1.1v5.9h-1.1zM309.5 315.1h4.7v5.9h-4.7zM321.3 315.1h2.1v5.9h-2.1zM328.4 315.1h1.7v5.9h-1.7zM347.2 315.1h1.1v5.9h-1.1zM351.8 315.1h1.1v5.9h-1.1zM290.1 322.3h1.4v5.9h-1.4zM295.1 322.3h1.1v5.9h-1.1zM297.2 322.3h1.4v5.9h-1.4zM314.2 322.3h1.1v5.9h-1.1zM342.6 322.3h2.6v5.9h-2.6zM347.2 322.3h3.1v5.9h-3.1zM354.2 322.3h1.1v5.9h-1.1zM290.1 329.5h1.4v5.9h-1.4zM292.5 329.5h3.3v5.9h-3.3zM297.9 329.5h5.0v5.9h-5.0zM305.0 329.5h4.3v5.9h-4.3zM311.8 329.5h1.1v5.9h-1.1zM323.7 329.5h1.1v5.9h-1.1zM326.0 329.5h1.1v5.9h-1.1zM330.9 329.5h1.1v5.9h-1.1zM337.6 329.5h1.1v5.9h-1.1zM344.7 329.5h1.1v5.9h-1.1zM352.0 329.5h3.0v5.9h-3.0zM382.6 271.9h2.8v5.9h-2.8zM392.1 271.9h1.1v5.9h-1.1zM396.8 271.9h1.1v5.9h-1.1zM373.4 279.1h1.1v5.9h-1.1zM387.6 279.1h1.1v5.9h-1.1zM394.4 279.1h1.1v5.9h-1.1zM396.5 279.1h1.1v5.9h-1.1zM403.9 279.1h1.1v5.9h-1.1zM356.7 286.3h1.1v5.9h-1.1zM359.0 286.3h1.1v5.9h-1.1zM382.6 286.3h1.1v5.9h-1.1zM401.8 286.3h1.1v5.9h-1.1zM385.0 293.5h1.1v5.9h-1.1zM392.1 293.5h2.3v5.9h-2.3zM399.3 293.5h1.1v5.9h-1.1zM401.2 293.5h1.1v5.9h-1.1zM403.9 293.5h1.1v5.9h-1.1zM371.3 300.7h1.1v5.9h-1.1zM375.5 300.7h1.1v5.9h-1.1zM377.7 300.7h1.1v5.9h-1.1zM380.5 300.7h2.6v5.9h-2.6zM397.1 300.7h1.1v5.9h-1.1zM399.3 300.7h1.1v5.9h-1.1zM403.9 300.7h1.1v5.9h-1.1zM406.3 300.7h2.3v5.9h-2.3zM356.7 307.9h1.1v5.9h-1.1zM359.0 307.9h1.1v5.9h-1.1zM366.3 307.9h1.1v5.9h-1.1zM371.3 307.9h1.1v5.9h-1.1zM378.0 307.9h3.3v5.9h-3.3zM397.1 307.9h1.1v5.9h-1.1zM403.9 307.9h1.1v5.9h-1.1zM356.7 315.1h1.1v5.9h-1.1zM359.3 315.1h3.1v5.9h-3.1zM366.3 315.1h1.1v5.9h-1.1zM377.9 315.1h1.1v5.9h-1.1zM385.0 315.1h1.1v5.9h-1.1zM387.6 315.1h1.1v5.9h-1.1zM389.4 315.1h1.1v5.9h-1.1zM399.3 315.1h1.1v5.9h-1.1zM404.3 315.1h2.0v5.9h-2.0zM355.0 322.3h5.0v5.9h-5.0zM363.8 322.3h1.1v5.9h-1.1zM366.3 322.3h1.1v5.9h-1.1zM375.5 322.3h1.1v5.9h-1.1zM380.2 322.3h1.1v5.9h-1.1zM382.3 322.3h1.1v5.9h-1.1zM392.1 322.3h1.1v5.9h-1.1zM356.7 329.5h1.1v5.9h-1.1zM361.4 329.5h1.4v5.9h-1.4zM380.2 329.5h1.1v5.9h-1.1zM385.0 329.5h1.1v5.9h-1.1zM390.0 329.5h1.1v5.9h-1.1zM392.1 329.5h1.1v5.9h-1.1z" fill="#141414"/>
<path d="M290.1 286.3h1.4v5.9h-1.4zM316.3 286.3h1.4v5.9h-1.4zM290.1 300.7h1.4v5.9h-1.4zM292.3 300.7h1.4v5.9h-1.4zM328.4 300.7h1.7v5.9h-1.7zM304.3 307.9h1.1v5.9h-1.1zM321.3 307.9h1.4v5.9h-1.4zM323.4 307.9h1.4v5.9h-1.4zM316.3 315.1h1.4v5.9h-1.4zM318.9 315.1h1.4v5.9h-1.4zM349.6 329.5h1.4v5.9h-1.4zM361.4 322.3h1.4v5.9h-1.4zM355.0 329.5h1.1v5.9h-1.1z" fill="#474747"/>
<path d="" fill="#000"/>
<path d="M478.4 268.4V340.32500000000005" fill="none" stroke="#2a2a2a" stroke-width="1.3"/>
<path d="M477.75 339.6H636.3" fill="none" stroke="#3a3a3a" stroke-width="1.45"/>
<text x="556.8" y="261.2" font-size="11.6" text-anchor="middle">Abduction</text>
<text x="460.0" y="266.6" font-size="19.5" text-anchor="start">H</text>
<path d="M484.3 279.1h1.2v5.9h-1.2zM496.5 279.1h9.2v5.9h-9.2zM522.3 279.1h1.2v5.9h-1.2zM524.8 279.1h3.0v5.9h-3.0zM531.7 279.1h1.2v5.9h-1.2zM543.4 279.1h1.2v5.9h-1.2zM486.7 286.3h2.2v5.9h-2.2zM491.6 286.3h3.4v5.9h-3.4zM496.5 286.3h2.2v5.9h-2.2zM501.1 286.3h1.2v5.9h-1.2zM503.8 286.3h2.4v5.9h-2.4zM508.4 286.3h4.3v5.9h-4.3zM515.7 286.3h3.0v5.9h-3.0zM520.2 286.3h1.2v5.9h-1.2zM529.0 286.3h1.2v5.9h-1.2zM534.1 286.3h5.8v5.9h-5.8zM541.4 286.3h3.2v5.9h-3.2zM546.0 286.3h1.9v5.9h-1.9zM486.7 293.5h1.2v5.9h-1.2zM491.6 293.5h2.8v5.9h-2.8zM496.5 293.5h3.2v5.9h-3.2zM501.1 293.5h1.2v5.9h-1.2zM503.8 293.5h10.4v5.9h-10.4zM515.7 293.5h3.0v5.9h-3.0zM520.2 293.5h1.2v5.9h-1.2zM526.6 293.5h1.2v5.9h-1.2zM529.0 293.5h3.0v5.9h-3.0zM534.1 293.5h3.2v5.9h-3.2zM538.4 293.5h1.2v5.9h-1.2zM546.0 293.5h1.9v5.9h-1.9zM494.4 300.7h3.6v5.9h-3.6zM501.1 300.7h2.4v5.9h-2.4zM505.0 300.7h1.2v5.9h-1.2zM508.4 300.7h2.4v5.9h-2.4zM512.0 300.7h1.2v5.9h-1.2zM518.1 300.7h4.9v5.9h-4.9zM527.2 300.7h1.2v5.9h-1.2zM531.7 300.7h3.2v5.9h-3.2zM536.9 300.7h4.0v5.9h-4.0zM543.4 300.7h1.2v5.9h-1.2zM491.4 307.9h1.5v5.9h-1.5zM496.5 307.9h1.2v5.9h-1.2zM498.9 307.9h5.2v5.9h-5.2zM505.7 307.9h1.2v5.9h-1.2zM508.4 307.9h3.0v5.9h-3.0zM520.2 307.9h1.2v5.9h-1.2zM524.8 307.9h3.6v5.9h-3.6zM534.1 307.9h3.2v5.9h-3.2zM538.4 307.9h1.2v5.9h-1.2zM541.4 307.9h1.2v5.9h-1.2zM546.0 307.9h1.9v5.9h-1.9zM484.3 315.1h5.8v5.9h-5.8zM491.6 315.1h3.4v5.9h-3.4zM498.9 315.1h1.2v5.9h-1.2zM505.7 315.1h1.2v5.9h-1.2zM508.4 315.1h1.2v5.9h-1.2zM513.0 315.1h1.2v5.9h-1.2zM515.7 315.1h3.0v5.9h-3.0zM522.3 315.1h3.0v5.9h-3.0zM529.0 315.1h1.2v5.9h-1.2zM534.1 315.1h1.2v5.9h-1.2zM538.8 315.1h3.0v5.9h-3.0zM543.4 315.1h4.6v5.9h-4.6zM484.3 322.3h1.2v5.9h-1.2zM486.7 322.3h5.6v5.9h-5.6zM494.4 322.3h1.2v5.9h-1.2zM498.9 322.3h5.2v5.9h-5.2zM505.7 322.3h1.2v5.9h-1.2zM510.8 322.3h3.0v5.9h-3.0zM515.7 322.3h1.2v5.9h-1.2zM520.2 322.3h18.3v5.9h-18.3zM541.4 322.3h6.6v5.9h-6.6zM484.3 329.5h2.8v5.9h-2.8zM489.2 329.5h8.3v5.9h-8.3zM498.9 329.5h5.2v5.9h-5.2zM505.7 329.5h2.1v5.9h-2.1zM510.8 329.5h1.2v5.9h-1.2zM515.1 329.5h1.8v5.9h-1.8zM518.1 329.5h3.3v5.9h-3.3zM522.3 329.5h1.2v5.9h-1.2zM524.8 329.5h3.0v5.9h-3.0zM529.0 329.5h3.0v5.9h-3.0zM533.3 329.5h1.8v5.9h-1.8zM538.8 329.5h5.5v5.9h-5.5zM546.0 329.5h1.9v5.9h-1.9zM550.7 279.1h1.2v5.9h-1.2zM552.9 279.1h1.2v5.9h-1.2zM558.0 279.1h5.8v5.9h-5.8zM564.8 279.1h1.2v5.9h-1.2zM573.8 279.1h1.2v5.9h-1.2zM579.2 279.1h1.6v5.9h-1.6zM583.8 279.1h1.2v5.9h-1.2zM591.1 279.1h1.2v5.9h-1.2zM595.6 279.1h1.2v5.9h-1.2zM548.0 286.3h8.5v5.9h-8.5zM560.2 286.3h2.2v5.9h-2.2zM563.2 286.3h9.7v5.9h-9.7zM579.2 286.3h1.2v5.9h-1.2zM583.8 286.3h1.2v5.9h-1.2zM588.9 286.3h1.8v5.9h-1.8zM593.2 286.3h5.8v5.9h-5.8zM602.3 286.3h1.2v5.9h-1.2zM607.2 286.3h1.2v5.9h-1.2zM614.6 286.3h1.7v5.9h-1.7zM548.0 293.5h4.3v5.9h-4.3zM556.3 293.5h4.5v5.9h-4.5zM565.0 293.5h1.2v5.9h-1.2zM572.1 293.5h1.2v5.9h-1.2zM574.5 293.5h5.3v5.9h-5.3zM583.8 293.5h1.2v5.9h-1.2zM586.9 293.5h2.4v5.9h-2.4zM591.1 293.5h9.1v5.9h-9.1zM602.3 293.5h1.2v5.9h-1.2zM605.7 293.5h1.2v5.9h-1.2zM608.4 293.5h1.2v5.9h-1.2zM612.2 293.5h2.7v5.9h-2.7zM551.4 300.7h5.1v5.9h-5.1zM560.2 300.7h1.2v5.9h-1.2zM563.2 300.7h1.2v5.9h-1.2zM567.4 300.7h1.2v5.9h-1.2zM569.6 300.7h1.2v5.9h-1.2zM574.5 300.7h3.3v5.9h-3.3zM581.8 300.7h8.1v5.9h-8.1zM593.6 300.7h1.2v5.9h-1.2zM598.4 300.7h2.1v5.9h-2.1zM603.3 300.7h1.2v5.9h-1.2zM610.1 300.7h1.1v5.9h-1.1zM548.0 307.9h1.2v5.9h-1.2zM550.7 307.9h2.8v5.9h-2.8zM560.2 307.9h1.2v5.9h-1.2zM564.8 307.9h1.2v5.9h-1.2zM569.6 307.9h2.1v5.9h-2.1zM580.8 307.9h6.1v5.9h-6.1zM591.1 307.9h1.2v5.9h-1.2zM595.6 307.9h1.2v5.9h-1.2zM600.9 307.9h1.2v5.9h-1.2zM605.1 307.9h3.0v5.9h-3.0zM612.2 307.9h2.7v5.9h-2.7zM550.7 315.1h2.8v5.9h-2.8zM556.3 315.1h2.7v5.9h-2.7zM560.8 315.1h6.7v5.9h-6.7zM571.3 315.1h1.2v5.9h-1.2zM576.9 315.1h2.1v5.9h-2.1zM581.4 315.1h1.2v5.9h-1.2zM586.9 315.1h6.1v5.9h-6.1zM593.9 315.1h2.1v5.9h-2.1zM598.4 315.1h7.9v5.9h-7.9zM607.5 315.1h3.0v5.9h-3.0zM548.0 322.3h9.7v5.9h-9.7zM560.8 322.3h4.3v5.9h-4.3zM569.3 322.3h1.2v5.9h-1.2zM575.9 322.3h1.2v5.9h-1.2zM579.2 322.3h2.8v5.9h-2.8zM586.9 322.3h3.0v5.9h-3.0zM593.9 322.3h5.1v5.9h-5.1zM600.9 322.3h7.3v5.9h-7.3zM610.2 322.3h1.6v5.9h-1.6zM551.0 329.5h2.4v5.9h-2.4zM554.7 329.5h1.6v5.9h-1.6zM560.8 329.5h4.3v5.9h-4.3zM572.1 329.5h5.7v5.9h-5.7zM579.2 329.5h2.2v5.9h-2.2zM582.3 329.5h3.4v5.9h-3.4zM586.9 329.5h2.4v5.9h-2.4zM591.1 329.5h1.8v5.9h-1.8zM605.7 329.5h1.2v5.9h-1.2z" fill="#141414"/>
<path d="M489.1 279.1h1.1v5.9h-1.1zM491.1 279.1h1.2v5.9h-1.2zM493.2 279.1h1.2v5.9h-1.2zM536.1 279.1h1.2v5.9h-1.2zM538.4 279.1h1.2v5.9h-1.2zM545.4 279.1h2.6v5.9h-2.6zM524.2 286.3h1.5v5.9h-1.5zM526.6 286.3h1.2v5.9h-1.2zM489.1 293.5h1.1v5.9h-1.1zM524.2 293.5h1.5v5.9h-1.5zM541.4 293.5h1.2v5.9h-1.2zM484.3 300.7h1.2v5.9h-1.2zM486.3 300.7h1.2v5.9h-1.2zM489.1 300.7h1.1v5.9h-1.1zM491.1 300.7h1.2v5.9h-1.2zM514.5 300.7h1.5v5.9h-1.5zM529.6 300.7h1.2v5.9h-1.2zM515.1 307.9h1.2v5.9h-1.2zM517.1 307.9h1.2v5.9h-1.2zM501.1 315.1h1.2v5.9h-1.2zM526.6 315.1h1.2v5.9h-1.2zM531.1 315.1h1.2v5.9h-1.2zM496.5 322.3h1.2v5.9h-1.2zM479.5 329.5h1.2v5.9h-1.2zM513.0 329.5h1.2v5.9h-1.2zM536.1 329.5h2.1v5.9h-2.1zM569.3 279.1h1.2v5.9h-1.2zM571.3 279.1h1.2v5.9h-1.2zM558.3 286.3h1.2v5.9h-1.2zM600.0 286.3h1.2v5.9h-1.2zM609.4 286.3h1.2v5.9h-1.2zM562.6 293.5h1.2v5.9h-1.2zM567.4 293.5h1.2v5.9h-1.2zM569.6 293.5h1.2v5.9h-1.2zM558.3 300.7h1.2v5.9h-1.2zM591.1 300.7h1.2v5.9h-1.2zM574.1 307.9h1.2v5.9h-1.2zM575.9 307.9h1.2v5.9h-1.2zM578.4 307.9h1.2v5.9h-1.2zM602.7 307.9h1.2v5.9h-1.2zM548.0 315.1h1.8v5.9h-1.8zM569.3 315.1h1.2v5.9h-1.2zM573.8 315.1h1.2v5.9h-1.2zM612.2 315.1h1.2v5.9h-1.2zM571.3 322.3h1.2v5.9h-1.2z" fill="#474747"/>
<path d="" fill="#000"/>
<path d="M289.1 389.8V462.175" fill="none" stroke="#505050" stroke-width="1.7"/>
<path d="M288.25 461.55H446.9" fill="none" stroke="#222" stroke-width="1.25"/>
<text x="368.1" y="382.6" font-size="11.15" text-anchor="middle">Thumb Out</text>
<text x="279.6" y="425.8" font-size="11.6" text-anchor="middle" transform="rotate(-90 279.6 425.8)">Unit 796</text>
<text x="271.4" y="388.5" font-size="19.5" text-anchor="start">I</text>
<path d="M290.4 408.1h5.6v5.9h-5.6zM297.8 408.1h7.8v5.9h-7.8zM307.1 408.1h1.8v5.9h-1.8zM311.6 408.1h1.1v5.9h-1.1zM319.2 408.1h5.0v5.9h-5.0zM326.4 408.1h1.9v5.9h-1.9zM331.2 408.1h1.1v5.9h-1.1zM335.3 408.1h1.7v5.9h-1.7zM340.3 408.1h3.9v5.9h-3.9zM349.2 408.1h1.3v5.9h-1.3zM354.1 408.1h1.1v5.9h-1.1zM295.2 415.3h1.1v5.9h-1.1zM307.1 415.3h3.1v5.9h-3.1zM311.6 415.3h1.1v5.9h-1.1zM319.1 415.3h1.1v5.9h-1.1zM323.6 415.3h1.1v5.9h-1.1zM331.2 415.3h2.4v5.9h-2.4zM335.3 415.3h1.9v5.9h-1.9zM295.2 422.5h1.1v5.9h-1.1zM300.2 422.5h2.2v5.9h-2.2zM307.1 422.5h12.0v5.9h-12.0zM321.7 422.5h2.4v5.9h-2.4zM328.6 422.5h7.2v5.9h-7.2zM340.3 422.5h10.0v5.9h-10.0zM352.2 422.5h1.1v5.9h-1.1zM354.1 422.5h1.1v5.9h-1.1zM295.2 429.7h2.6v5.9h-2.6zM302.5 429.7h2.8v5.9h-2.8zM307.1 429.7h1.1v5.9h-1.1zM309.7 429.7h5.0v5.9h-5.0zM316.9 429.7h2.8v5.9h-2.8zM321.4 429.7h5.0v5.9h-5.0zM328.6 429.7h2.8v5.9h-2.8zM335.3 429.7h1.7v5.9h-1.7zM345.0 429.7h2.6v5.9h-2.6zM295.2 436.9h7.2v5.9h-7.2zM304.7 436.9h10.0v5.9h-10.0zM316.9 436.9h3.9v5.9h-3.9zM324.2 436.9h7.8v5.9h-7.8zM333.1 436.9h2.8v5.9h-2.8zM340.3 436.9h2.2v5.9h-2.2zM345.0 436.9h10.0v5.9h-10.0zM300.2 444.1h5.0v5.9h-5.0zM307.1 444.1h2.6v5.9h-2.6zM314.4 444.1h1.1v5.9h-1.1zM316.9 444.1h4.5v5.9h-4.5zM324.2 444.1h2.8v5.9h-2.8zM328.6 444.1h18.9v5.9h-18.9zM349.8 444.1h5.2v5.9h-5.2zM295.2 451.3h5.0v5.9h-5.0zM302.4 451.3h1.1v5.9h-1.1zM307.1 451.3h4.8v5.9h-4.8zM314.4 451.3h5.3v5.9h-5.3zM324.1 451.3h1.1v5.9h-1.1zM328.6 451.3h3.3v5.9h-3.3zM335.3 451.3h3.3v5.9h-3.3zM340.3 451.3h5.0v5.9h-5.0zM347.0 451.3h2.2v5.9h-2.2zM352.0 451.3h3.0v5.9h-3.0zM356.7 408.1h1.1v5.9h-1.1zM366.1 408.1h1.3v5.9h-1.3zM387.5 408.1h2.0v5.9h-2.0zM392.3 408.1h1.1v5.9h-1.1zM396.7 408.1h1.1v5.9h-1.1zM401.7 408.1h1.1v5.9h-1.1zM404.0 408.1h2.4v5.9h-2.4zM409.0 408.1h1.1v5.9h-1.1zM413.6 408.1h1.4v5.9h-1.4zM359.2 415.3h3.3v5.9h-3.3zM366.7 415.3h3.0v5.9h-3.0zM373.7 415.3h2.4v5.9h-2.4zM387.3 415.3h1.1v5.9h-1.1zM401.7 415.3h1.1v5.9h-1.1zM411.5 415.3h4.5v5.9h-4.5zM355.0 422.5h2.2v5.9h-2.2zM358.9 422.5h1.1v5.9h-1.1zM366.7 422.5h1.9v5.9h-1.9zM371.1 422.5h1.1v5.9h-1.1zM380.4 422.5h3.0v5.9h-3.0zM385.0 422.5h5.8v5.9h-5.8zM392.3 422.5h3.0v5.9h-3.0zM399.5 422.5h2.8v5.9h-2.8zM404.0 422.5h3.1v5.9h-3.1zM409.0 422.5h1.1v5.9h-1.1zM411.5 422.5h3.6v5.9h-3.6zM371.1 429.7h1.1v5.9h-1.1zM380.0 429.7h1.1v5.9h-1.1zM409.0 429.7h1.1v5.9h-1.1zM413.6 429.7h1.4v5.9h-1.4zM355.0 436.9h4.7v5.9h-4.7zM361.7 436.9h1.7v5.9h-1.7zM368.6 436.9h1.1v5.9h-1.1zM371.1 436.9h1.1v5.9h-1.1zM385.0 436.9h1.1v5.9h-1.1zM392.3 436.9h1.1v5.9h-1.1zM404.0 436.9h1.3v5.9h-1.3zM357.2 444.1h2.8v5.9h-2.8zM364.5 444.1h2.2v5.9h-2.2zM371.1 444.1h5.0v5.9h-5.0zM377.8 444.1h3.0v5.9h-3.0zM385.0 444.1h2.8v5.9h-2.8zM392.3 444.1h2.8v5.9h-2.8zM399.5 444.1h2.8v5.9h-2.8zM403.9 444.1h1.1v5.9h-1.1zM409.0 444.1h3.3v5.9h-3.3zM413.6 444.1h2.3v5.9h-2.3zM357.2 451.3h1.1v5.9h-1.1zM361.9 451.3h2.9v5.9h-2.9zM368.9 451.3h2.8v5.9h-2.8zM376.1 451.3h2.4v5.9h-2.4zM382.8 451.3h1.3v5.9h-1.3zM389.5 451.3h1.3v5.9h-1.3zM394.5 451.3h1.1v5.9h-1.1zM396.7 451.3h1.1v5.9h-1.1zM401.7 451.3h1.1v5.9h-1.1zM409.0 451.3h1.1v5.9h-1.1zM411.5 451.3h1.1v5.9h-1.1zM413.6 451.3h2.3v5.9h-2.3z" fill="#141414"/>
<path d="M313.8 408.1h1.1v5.9h-1.1zM347.0 408.1h1.3v5.9h-1.3zM297.4 415.3h1.1v5.9h-1.1zM299.4 415.3h1.1v5.9h-1.1zM304.5 415.3h1.1v5.9h-1.1zM321.4 415.3h1.1v5.9h-1.1zM328.6 415.3h1.1v5.9h-1.1zM354.1 415.3h1.1v5.9h-1.1zM290.3 422.5h1.1v5.9h-1.1zM297.4 422.5h1.1v5.9h-1.1zM304.1 422.5h1.4v5.9h-1.4zM326.4 422.5h1.1v5.9h-1.1zM337.5 422.5h1.1v5.9h-1.1zM299.4 429.7h1.1v5.9h-1.1zM332.5 429.7h1.1v5.9h-1.1zM340.3 429.7h1.1v5.9h-1.1zM342.5 429.7h1.1v5.9h-1.1zM349.2 429.7h1.3v5.9h-1.3zM351.4 429.7h1.1v5.9h-1.1zM354.1 429.7h1.1v5.9h-1.1zM337.0 436.9h1.7v5.9h-1.7zM290.3 444.1h1.1v5.9h-1.1zM297.8 444.1h1.1v5.9h-1.1zM311.6 444.1h1.1v5.9h-1.1zM304.5 451.3h1.1v5.9h-1.1zM326.4 451.3h1.1v5.9h-1.1zM355.0 408.1h1.3v5.9h-1.3zM355.0 415.3h2.8v5.9h-2.8zM377.3 415.3h1.3v5.9h-1.3zM394.2 415.3h1.4v5.9h-1.4zM404.0 415.3h1.3v5.9h-1.3zM406.2 415.3h1.3v5.9h-1.3zM361.1 422.5h1.4v5.9h-1.4zM373.4 422.5h1.4v5.9h-1.4zM377.3 422.5h1.3v5.9h-1.3zM355.0 429.7h1.3v5.9h-1.3zM357.2 429.7h1.1v5.9h-1.1zM359.2 429.7h1.1v5.9h-1.1zM361.5 429.7h1.3v5.9h-1.3zM363.7 429.7h1.3v5.9h-1.3zM366.1 429.7h2.2v5.9h-2.2zM368.9 429.7h1.1v5.9h-1.1zM373.0 429.7h3.7v5.9h-3.7zM381.7 429.7h2.0v5.9h-2.0zM373.0 436.9h3.1v5.9h-3.1zM377.3 436.9h1.3v5.9h-1.3zM380.0 436.9h1.1v5.9h-1.1zM382.3 436.9h1.7v5.9h-1.7zM387.3 436.9h1.1v5.9h-1.1zM355.0 444.1h1.3v5.9h-1.3zM361.1 444.1h1.4v5.9h-1.4zM367.2 444.1h1.7v5.9h-1.7zM382.3 444.1h1.9v5.9h-1.9zM388.9 444.1h1.7v5.9h-1.7zM396.7 444.1h1.1v5.9h-1.1zM406.2 444.1h1.3v5.9h-1.3zM355.0 451.3h1.3v5.9h-1.3zM359.4 451.3h1.1v5.9h-1.1zM366.1 451.3h2.2v5.9h-2.2zM373.0 451.3h2.6v5.9h-2.6zM380.4 451.3h1.3v5.9h-1.3zM385.0 451.3h1.1v5.9h-1.1z" fill="#474747"/>
<path d="" fill="#000"/>
<path d="M478.4 390.6V462.175" fill="none" stroke="#2a2a2a" stroke-width="1.3"/>
<path d="M477.75 461.55H636.3" fill="none" stroke="#222" stroke-width="1.25"/>
<text x="557.1" y="382.8" font-size="11.1" text-anchor="middle">Thumb In</text>
<text x="463.7" y="388.5" font-size="19.5" text-anchor="start">J</text>
<path d="M481.9 408.1h1.3v5.9h-1.3zM520.3 408.1h1.3v5.9h-1.3zM538.6 408.1h1.3v5.9h-1.3zM481.9 415.3h1.3v5.9h-1.3zM489.1 415.3h1.3v5.9h-1.3zM498.6 415.3h1.3v5.9h-1.3zM524.4 415.3h1.4v5.9h-1.4zM531.4 415.3h1.3v5.9h-1.3zM536.4 415.3h1.3v5.9h-1.3zM543.7 415.3h1.3v5.9h-1.3zM501.0 422.5h1.2v5.9h-1.2zM505.8 422.5h1.3v5.9h-1.3zM529.2 422.5h1.3v5.9h-1.3zM481.9 429.7h1.3v5.9h-1.3zM489.1 429.7h1.3v5.9h-1.3zM505.8 429.7h1.3v5.9h-1.3zM517.8 429.7h1.3v5.9h-1.3zM524.4 429.7h1.4v5.9h-1.4zM479.7 436.9h1.3v5.9h-1.3zM484.3 436.9h1.4v5.9h-1.4zM508.3 436.9h1.4v5.9h-1.4zM517.8 436.9h1.3v5.9h-1.3zM529.2 436.9h1.3v5.9h-1.3zM531.4 436.9h1.3v5.9h-1.3zM541.2 436.9h1.3v5.9h-1.3zM481.9 444.1h1.3v5.9h-1.3zM486.7 444.1h1.3v5.9h-1.3zM505.8 444.1h1.3v5.9h-1.3zM515.5 444.1h1.4v5.9h-1.4zM541.2 444.1h1.3v5.9h-1.3zM513.1 451.3h1.3v5.9h-1.3zM517.8 451.3h1.3v5.9h-1.3zM524.4 451.3h1.4v5.9h-1.4zM550.6 408.1h1.3v5.9h-1.3zM555.3 408.1h1.3v5.9h-1.3zM560.2 408.1h1.4v5.9h-1.4zM583.6 408.1h1.4v5.9h-1.4zM564.5 415.3h1.3v5.9h-1.3zM571.7 415.3h1.3v5.9h-1.3zM578.9 415.3h1.3v5.9h-1.3zM583.6 415.3h1.4v5.9h-1.4zM550.6 422.5h1.3v5.9h-1.3zM564.5 422.5h1.3v5.9h-1.3zM576.5 422.5h1.3v5.9h-1.3zM578.9 429.7h1.3v5.9h-1.3zM588.4 429.7h1.3v5.9h-1.3zM550.6 436.9h1.3v5.9h-1.3zM557.8 436.9h1.3v5.9h-1.3zM562.6 436.9h1.3v5.9h-1.3zM564.5 436.9h1.3v5.9h-1.3zM567.0 436.9h1.3v5.9h-1.3zM574.2 436.9h1.3v5.9h-1.3zM593.4 436.9h1.3v5.9h-1.3zM605.3 436.9h1.3v5.9h-1.3zM545.9 444.1h1.3v5.9h-1.3zM557.8 444.1h1.3v5.9h-1.3zM569.3 444.1h1.3v5.9h-1.3zM574.2 444.1h1.3v5.9h-1.3zM578.9 444.1h1.3v5.9h-1.3zM593.4 444.1h1.3v5.9h-1.3zM550.6 451.3h1.3v5.9h-1.3zM560.2 451.3h1.4v5.9h-1.4zM569.3 451.3h1.3v5.9h-1.3zM574.2 451.3h1.3v5.9h-1.3zM583.6 451.3h1.1v5.9h-1.1zM586.0 451.3h1.3v5.9h-1.3zM593.4 451.3h1.3v5.9h-1.3zM605.3 451.3h1.3v5.9h-1.3z" fill="#141414"/>
<path d="M479.7 408.1h1.3v5.9h-1.3zM536.4 408.1h1.3v5.9h-1.3zM479.7 415.3h1.3v5.9h-1.3zM479.7 429.7h1.3v5.9h-1.3zM479.7 444.1h1.3v5.9h-1.3zM553.3 444.1h1.3v5.9h-1.3zM555.0 444.1h1.3v5.9h-1.3z" fill="#474747"/>
<path d="M484.7 408.1h2.2v5.9h-2.2zM480.0 422.5h4.1v5.9h-4.1zM593.4 429.7h3.3v5.9h-3.3zM586.2 444.1h3.6v5.9h-3.6zM555.6 451.3h2.2v5.9h-2.2z" fill="#000"/>
<text x="289.1" y="475.6" font-size="11.6" text-anchor="middle">0</text>
<text x="368.0" y="475.6" font-size="11.6" text-anchor="middle">1</text>
<text x="446.9" y="475.6" font-size="11.6" text-anchor="middle">2</text>
<path d="M289.1 461.55V463.45M368.0 461.55V463.45M446.9 461.55V463.45" stroke="#2a2a2a" stroke-width="1" fill="none"/>
<text x="367.3" y="490.0" font-size="11.6" text-anchor="middle">Time (s)</text>
<text x="478.4" y="476.0" font-size="11.6" text-anchor="middle">0</text>
<text x="557.3" y="476.0" font-size="11.6" text-anchor="middle">1</text>
<text x="636.3" y="476.0" font-size="11.6" text-anchor="middle">2</text>
<path d="M478.4 461.55V463.45M557.3 461.55V463.45M636.3 461.55V463.45" stroke="#2a2a2a" stroke-width="1" fill="none"/>
<text x="556.9" y="490.2" font-size="11.6" text-anchor="middle">Time (s)</text>
</svg>
</body></html>
